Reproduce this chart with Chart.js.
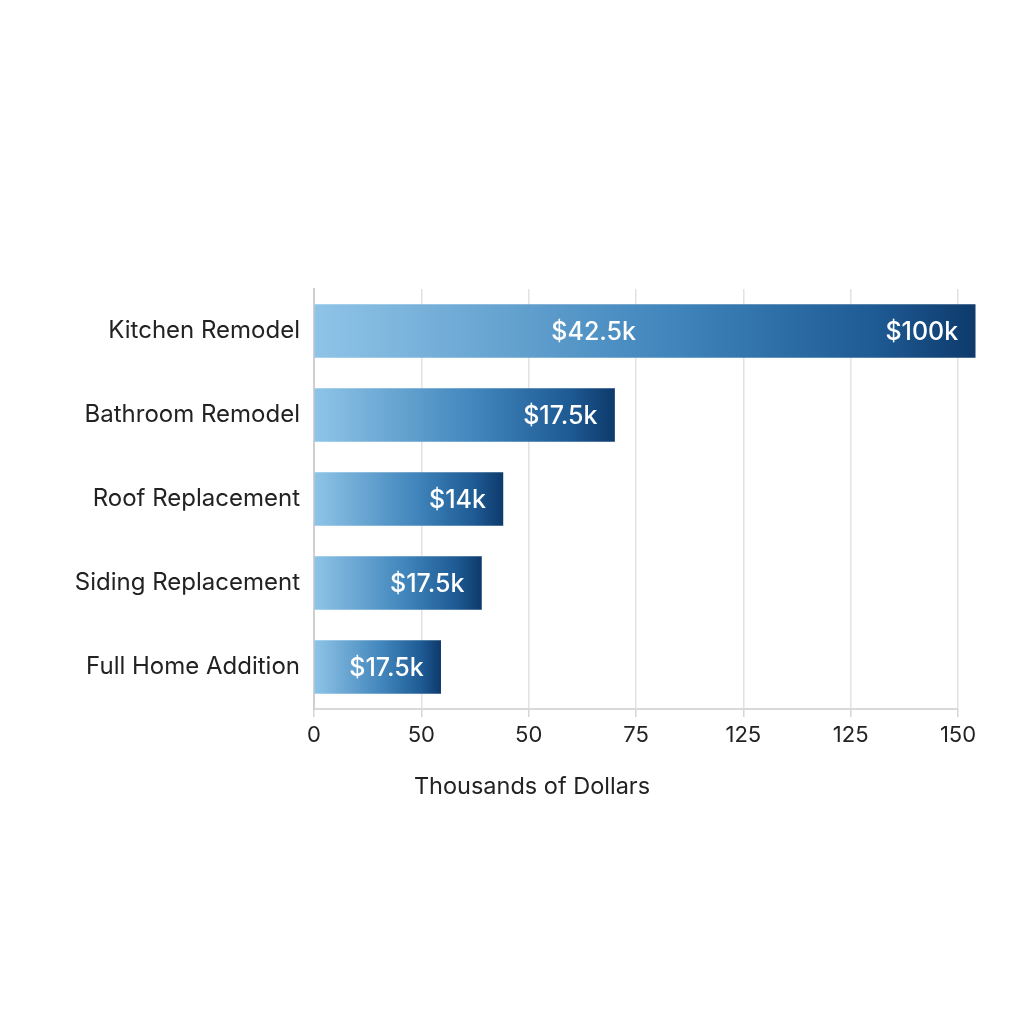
<!DOCTYPE html>
<html>
<head>
<meta charset="utf-8">
<script src="https://cdn.jsdelivr.net/npm/chart.js@4/dist/chart.umd.min.js"></script>
<style>
  html, body { margin: 0; padding: 0; background: #fff; }
  #wrap { width: 1024px; height: 1024px; }
</style>
</head>
<body>
<div id="wrap"><canvas id="c" width="1024" height="1024"></canvas></div>
<script>
const categories = ['Kitchen Remodel', 'Bathroom Remodel', 'Roof Replacement', 'Siding Replacement', 'Full Home Addition']
const costs = [154, 70, 44, 39, 29.5]
const endLabels = ['$100k', '$17.5k', '$14k', '$17.5k', '$17.5k']
const midLabels = ['$42.5k', null, null, null, null]
const midValues = [75, null, null, null, null]
const tickValues = [0, 25, 50, 75, 100, 125, 150]
const tickLabels = ['0', '50', '50', '75', '125', '125', '150']
const axisTitle = 'Thousands of Dollars'

const FONT = 'Inter, "Noto Sans", sans-serif'

function barGradient(ctx) {
    const chart = ctx.chart
    if (!chart.chartArea) return '#4a8cc2'
    const x = chart.scales.x
    const x0 = x.getPixelForValue(0)
    const x1 = x.getPixelForValue(ctx.raw)
    const g = chart.ctx.createLinearGradient(x0, 0, x1, 0)
    g.addColorStop(0, '#8fc4e7')
    g.addColorStop(0.55, '#3f84bb')
    g.addColorStop(0.85, '#1e5a93')
    g.addColorStop(1, '#0e3a6c')
    return g
}

const whiteBg = {
    id: 'whiteBg',
    beforeDraw(chart) {
        const c = chart.ctx
        c.save()
        c.fillStyle = '#ffffff'
        c.fillRect(0, 0, chart.width, chart.height)
        c.restore()
    }
}

const barLabels = {
    id: 'barLabels',
    afterDatasetsDraw(chart) {
        const c = chart.ctx
        const meta = chart.getDatasetMeta(0)
        c.save()
        c.fillStyle = '#ffffff'
        c.font = '500 25px ' + FONT
        c.textBaseline = 'middle'
        c.textAlign = 'right'
        meta.data.forEach((bar, i) => {
            c.fillText(endLabels[i], bar.x - 17, bar.y + 1)
            if (midLabels[i]) {
                c.fillText(midLabels[i], chart.scales.x.getPixelForValue(midValues[i]), bar.y + 1)
            }
        })
        c.restore()
    }
}

// axis title sits left of the plot centre in the reference
const bottomTitle = {
    id: 'bottomTitle',
    afterDraw(chart) {
        const c = chart.ctx
        c.save()
        c.fillStyle = '#222'
        c.font = '23.5px ' + FONT
        c.textAlign = 'center'
        c.textBaseline = 'middle'
        c.fillText(axisTitle, 532, 787)
        c.restore()
    }
}

const config = {
    type: 'bar',
    data: {
        labels: categories,
        datasets: [{
            data: costs,
            backgroundColor: barGradient,
            borderWidth: 0,
            barThickness: 53,
            clip: false
        }]
    },
    options: {
        indexAxis: 'y',
        responsive: false,
        animation: false,
        layout: { padding: { top: 289, right: 66, left: 0, bottom: 265 } },
        plugins: {
            legend: { display: false },
            tooltip: { enabled: false }
        },
        scales: {
            x: {
                min: 0,
                max: 150,
                afterBuildTicks(scale) {
                    scale.ticks = tickValues.map(v => ({ value: v }))
                },
                afterFit(scale) { scale.height = 50 },
                grid: { color: '#e2e2e2', lineWidth: 1.5, tickLength: 8, tickColor: '#d6d6d6' },
                border: { color: '#d9d9d9', width: 2 },
                ticks: {
                    color: '#222',
                    font: { family: FONT, size: 22 },
                    padding: 5,
                    maxRotation: 0,
                    callback: (v, i) => tickLabels[i]
                }
            },
            y: {
                afterFit(scale) { scale.width = 314 },
                grid: { display: false },
                border: { color: '#cfcfcf', width: 2 },
                ticks: {
                    color: '#222',
                    font: { family: FONT, size: 24 },
                    padding: 6
                }
            }
        }
    },
    plugins: [whiteBg, barLabels, bottomTitle]
}

new Chart(document.getElementById('c'), config)
</script>
</body>
</html>
